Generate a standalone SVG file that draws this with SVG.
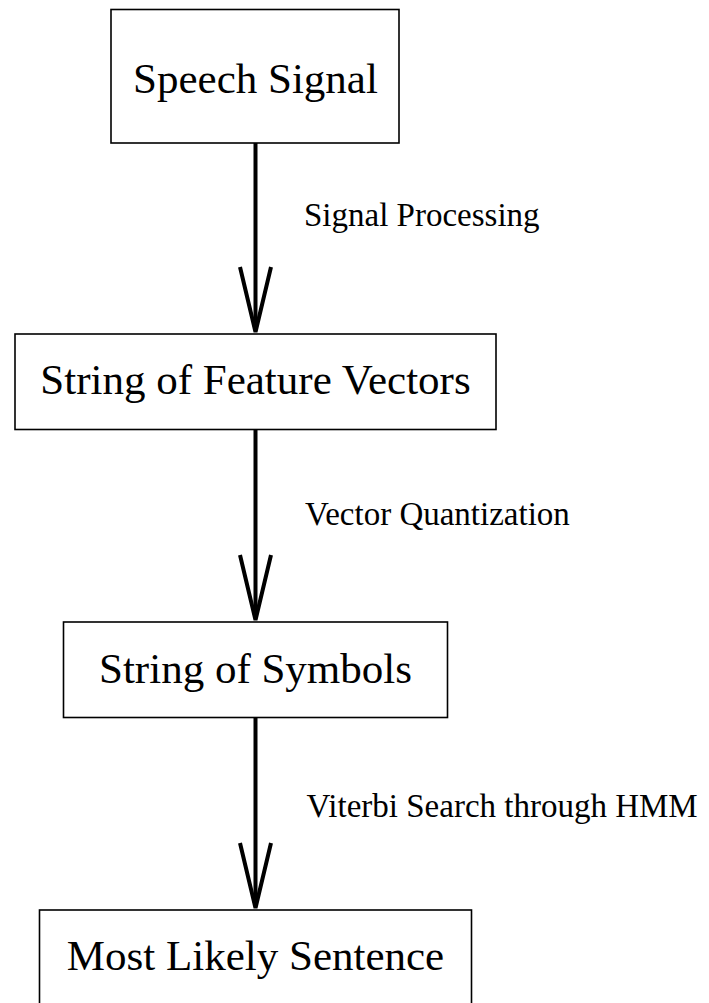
<svg xmlns="http://www.w3.org/2000/svg" width="709" height="1003" viewBox="0 0 709 1003">
<style>
.box{fill:#fff;stroke:#000;stroke-width:1.6}
.t{font-family:"Liberation Serif","Times New Roman",serif;font-size:43px;text-anchor:middle;fill:#000}
.lbl{font-family:"Liberation Serif","Times New Roman",serif;font-size:33px;fill:#000}
.edge{fill:none;stroke:#000;stroke-width:4}
</style>
<rect width="709" height="1003" fill="#fff"/>
<g id="connectors">
  <g id="e1"><line class="edge" x1="255.5" y1="143" x2="255.5" y2="330"/><polyline class="edge" points="240,267 255.5,332 271,267"/></g>
  <g id="e2"><line class="edge" x1="255.5" y1="430" x2="255.5" y2="618"/><polyline class="edge" points="240,555 255.5,620 271,555"/></g>
  <g id="e3"><line class="edge" x1="255.5" y1="718" x2="255.5" y2="906"/><polyline class="edge" points="240,843 255.5,908 271,843"/></g>
  <text class="lbl" x="304" y="226">Signal Processing</text>
  <text class="lbl" x="305" y="525">Vector Quantization</text>
  <text class="lbl" x="306.5" y="816.5">Viterbi Search through HMM</text>
</g>
<g id="n1"><rect class="box" x="111" y="9.5" width="288" height="133.5"/><text class="t" x="255.5" y="92.5">Speech Signal</text></g>
<g id="n2"><rect class="box" x="15" y="334" width="481" height="95.5"/><text class="t" x="255.5" y="394">String of Feature Vectors</text></g>
<g id="n3"><rect class="box" x="63.5" y="622" width="384" height="95.5"/><text class="t" x="255.5" y="682.5">String of Symbols</text></g>
<g id="n4"><rect class="box" x="39.5" y="910" width="432" height="110"/><text class="t" x="255.5" y="970">Most Likely Sentence</text></g>
</svg>
